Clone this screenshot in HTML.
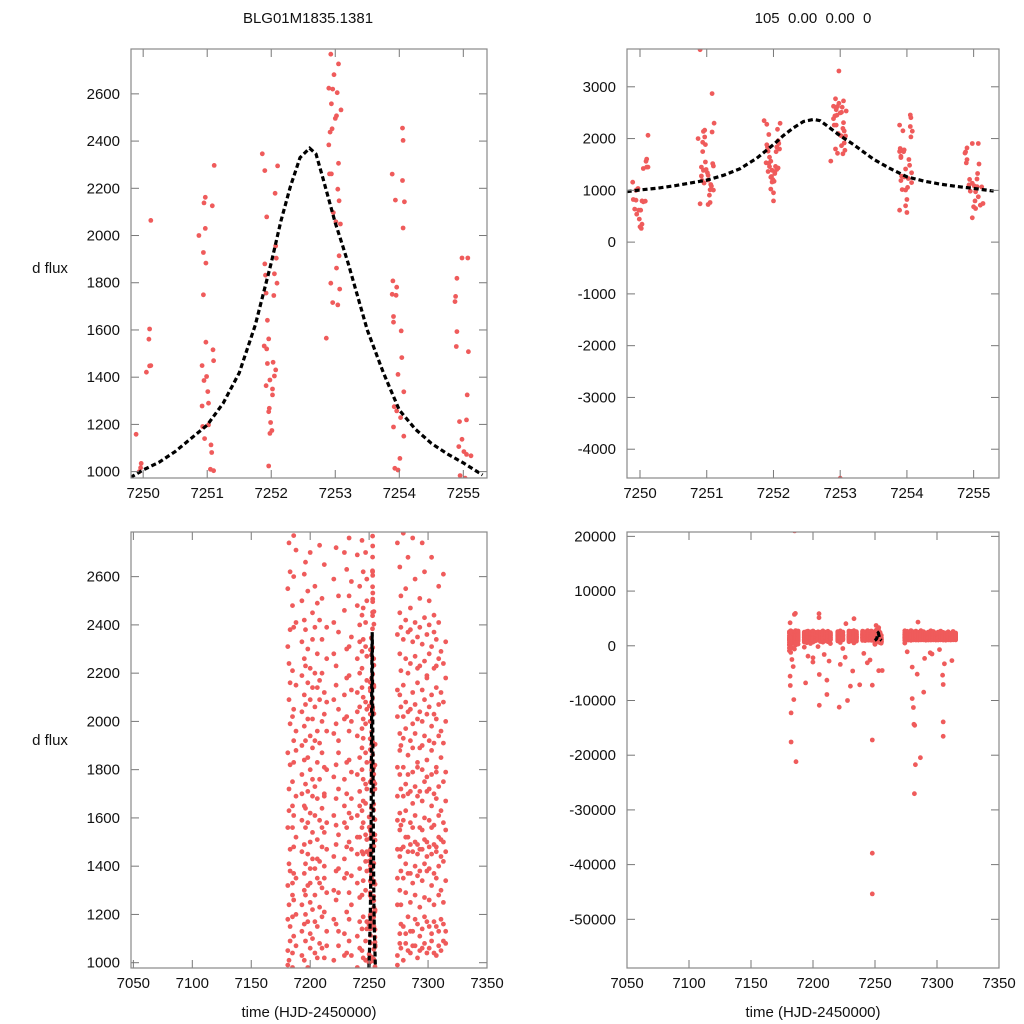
<!DOCTYPE html>
<html><head><meta charset="utf-8">
<style>
html,body{margin:0;padding:0;background:#fff;}
svg{display:block;font-family:"Liberation Sans",Arial,sans-serif;}
</style></head>
<body>
<svg id="chart" width="1024" height="1024" viewBox="0 0 1024 1024" xmlns="http://www.w3.org/2000/svg">
<rect width="1024" height="1024" fill="#fff"/>
<text x="308" y="23" font-size="15" text-anchor="middle" fill="#111">BLG01M1835.1381</text>
<text x="813" y="23" font-size="15" text-anchor="middle" fill="#111" xml:space="preserve">105  0.00  0.00  0</text>
<text x="50" y="273" font-size="15" text-anchor="middle" fill="#111">d flux</text>
<text x="50" y="745" font-size="15" text-anchor="middle" fill="#111">d flux</text>
<text x="309" y="1017" font-size="15" text-anchor="middle" fill="#111">time (HJD-2450000)</text>
<text x="813" y="1017" font-size="15" text-anchor="middle" fill="#111">time (HJD-2450000)</text>
</svg>
<script>
// Zoomed-in photometry (peak nights)
const zoomT = [7249.89,7249.97,7249.94,7250.05,7250.10,7250.12,7250.09,7250.10,7250.12,
7250.87,7250.94,7250.98,7250.97,7250.95,7250.97,7251.08,7251.11,7250.94,7250.98,7251.09,7251.10,7250.92,7250.95,7250.99,7251.01,7250.92,7251.02,7250.93,7251.02,7250.96,7251.06,7251.07,7251.05,7251.10,
7251.86,7251.90,7252.10,7252.06,7251.93,7252.07,7252.08,7251.90,7251.91,7252.05,7252.09,7251.92,7252.04,7251.94,7251.96,7251.89,7251.93,7251.94,7252.03,7252.07,7252.05,7251.98,7251.92,7252.02,7252.02,7251.97,7251.96,7251.99,7252.01,7251.98,7251.96,
7252.93,7253.05,7252.98,7252.90,7252.96,7253.03,7252.94,7253.09,7253.02,7253.00,7252.95,7252.92,7252.90,7253.05,7252.91,7252.94,7253.04,7253.06,7252.97,7253.01,7253.08,7253.06,7253.02,7253.07,7252.93,7252.96,7253.04,7252.86,
7254.05,7254.06,7253.89,7254.05,7253.94,7254.08,7254.06,7253.90,7253.96,7253.89,7253.95,7253.91,7253.91,7254.03,7254.04,7253.98,7254.07,7253.92,7253.96,7254.02,7253.91,7254.07,7254.01,7253.93,7253.98,
7254.98,7255.07,7254.90,7254.88,7254.87,7254.90,7254.89,7255.08,7255.06,7254.94,7255.05,7254.98,7254.93,7255.01,7255.05,7254.95,7255.03,
7249.96,7249.90,7249.94,7250.03,7250.05,7250.08,7249.92,7249.98,7250.01,7249.95,7249.99,7250.03,7250.00,7250.02,
7250.90,7251.08,7250.90,7251.02,7251.05,7251.04,7252.00,7252.00,7252.98,7253.00,
7253.89,7254.00,7253.98,7254.00,7254.98,7255.03,7255.00,7255.10,7255.02,7255.14,7255.07,7255.12];
const zoomF = [1158,1035,1000,1421,1448,1449,1561,1604,2064,
2000,1928,1883,2030,2138,2162,2126,2297,1749,1548,1516,1470,1449,1386,1403,1339,1278,1290,1191,1198,1140,1113,1081,1010,1004,
2346,2275,2295,2179,2079,1956,1904,1880,1832,1838,1798,1756,1746,1641,1562,1532,1520,1458,1463,1431,1405,1388,1364,1350,1325,1268,1254,1208,1174,1162,1024,
2768,2727,2681,2624,2620,2605,2558,2532,2507,2496,2452,2438,2384,2306,2261,2261,2196,2147,2097,2058,2049,1914,1862,1773,1798,1716,1706,1565,
2455,2403,2260,2233,2150,2143,2032,1808,1781,1751,1747,1657,1633,1596,1483,1412,1338,1275,1257,1229,1189,1150,1056,1014,1007,
1905,1905,1819,1742,1720,1593,1530,1508,1325,1212,1219,1137,1106,1085,1073,983,972,
1016,823,810,797,778,791,637,617,617,540,444,347,296,264,
3717,2868,740,727,765,907,797,952,3305,-4560,
617,572,701,823,469,650,682,714,797,746,875,1067];

// Full-season photometry: nights and flux values per night
const seasonT = [7181,7182,7183,7185,7186,7188,7193,7195,7196,7198,7200,7202,7204,7206,7208,7210,7212,7214,7220,7222,7224,7229,7231,7233,7235,7240,7242,7244,7245,7247,7248,7274,7276,7277,7279,7281,7283,7285,7287,7289,7291,7293,7295,7297,7299,7301,7303,7305,7307,7309,7311,7313,7315];
const seasonF = [
[1050,1320,1870,2310,1560,990,240,-400,610,1180,2550,-900,130],
[1410,2090,1240,2740,1720,350,-1200,820,1630,2240,1010,480],
[1150,1990,2620,1380,1820,560,-350,2160,1090,700,1470,2380],
[1040,1280,1650,2210,2480,1750,1330,980,400,-600,2020,1190,1560],
[2770,1110,1480,1920,2390,1610,1260,2050,780,120,1370,2600,1830],
[1200,1520,1880,2410,1070,1690,2150,850,300,1350,2710,1960],
[1130,1460,1780,2040,2330,1240,1590,1900,1030,2500,690,-250,1700,2190],
[1010,1370,1650,1980,2260,2610,1160,1840,1490,2110,560,1300,2420],
[1090,1280,1560,1740,2070,2380,1410,1920,1200,2660,870,1640,2230],
[1170,1450,1850,2160,1320,2540,1710,980,1580,2010,420,2300],
[1060,1330,1620,1940,2220,1500,1800,1250,2700,680,1120,2090,1390],
[1220,1540,1890,2340,1100,1690,2010,1430,2450,910,1760,2140],
[1040,1390,1730,2060,2390,1280,1610,2200,-150,1920,1170,2560],
[1150,1510,1830,2140,1350,1680,2490,1020,780,1960,2280,1430],
[1080,1420,1760,2090,2420,1230,1590,1910,2730,650,1330,2170],
[1190,1560,1870,2200,1310,1640,2000,2510,1060,900,1480,2340],
[1020,1350,1690,2030,1210,1540,1810,2650,750,1400,2120,1700],
[1130,1470,1800,2260,1580,1960,2390,1070,400,1290,2080],
[1010,1300,1610,1950,2280,1440,1770,2090,2590,880,1180,2410],
[1160,1490,1820,2150,1260,1680,1990,2720,600,1380,2230,1570],
[1070,1390,1720,2050,2370,1530,1870,1130,-500,1920,1290,2520],
[1120,1430,1760,2110,2460,1350,1650,2010,1030,750,2700,1580],
[1040,1370,1700,2020,2300,1560,1830,2180,1210,2630,890,1480],
[1180,1500,1840,2190,2520,1290,1620,1960,1090,2760,520,2310],
[1030,1360,1680,2000,2350,1470,1790,2130,1240,2580,830,1600],
[1110,1450,1780,2120,2480,1330,1610,1940,2260,2690,980,1520,2040],
[1060,1390,1710,2060,2400,1520,1850,2200,1170,2560,940,1650,2330,1270],
[1140,1460,1800,2140,2440,1280,1630,1970,2290,2750,1050,1560,1890,2220],
[1020,1340,1670,2010,2340,1450,1760,2100,2620,1190,1580,1930,2470],
[1090,1420,1740,2080,2410,1300,1660,1990,2310,2700,1010,1530,1870],
[1170,1510,1830,2170,2500,1380,1720,2050,2590,1140,1460,2270],
[1030,1350,1690,2020,2360,1470,1810,2740,990,1240,1590,2130,500],
[1120,1440,1780,2110,2450,1300,1620,1950,2280,1080,1550,1880,2640],
[1060,1380,1720,2060,2390,1240,1570,1900,2210,1160,1470,2520],
[1150,1480,1810,2150,1350,1690,2020,2340,2780,1010,1590,1930],
[1080,1410,1740,2080,2420,1290,1630,1970,2260,1120,1520,2550],
[1190,1520,1860,2200,1370,1700,2040,2370,1050,1460,1780,2680],
[1040,1370,1710,2050,2380,1250,1580,1920,2240,1130,1490,2470],
[1130,1460,1790,2120,1330,1660,1990,2330,2760,1070,1560,1890],
[1070,1400,1730,2070,2410,1280,1610,1950,2270,1180,1500,2590],
[1160,1490,1830,2160,1360,1690,2010,2350,1020,1450,1810,2220],
[1050,1380,1710,2040,2390,1230,1560,1890,2230,1110,1470,2510],
[1140,1470,1800,2130,1340,1670,2000,2320,2740,1060,1550,1900],
[1080,1410,1750,2090,2430,1270,1600,1940,2250,1190,1510,2620],
[1170,1500,1840,2180,1380,1710,2030,2360,1040,1440,1770,2190],
[1060,1390,1720,2060,2400,1260,1590,1920,2280,1150,1480,2500],
[1120,1450,1780,2110,1320,1650,1980,2310,2680,1090,1560,1880],
[1040,1370,1700,2030,2370,1240,1570,1910,2220,1170,1490,2440],
[1150,1480,1810,2140,1350,1680,2010,2340,1030,1460,1790,2230],
[1070,1400,1730,2070,2410,1280,1610,1940,2260,1130,1520,2560],
[1180,1510,1850,1300,1630,1960,2290,1050,1440,2120],
[1090,1420,1750,2080,1250,1580,1910,2240,1160,1500,2610],
[1130,1460,1790,1340,1670,2000,2330,1080,1550,2180]];
// Outliers only visible in the full-range panel
const outT = [7185.2,7186.3,7182.3,7186.3,7182.3,7184.5,7181.7,7247.8,7247.8,7247.8,7281.8,7282.6,7286.6,7281.4,7282.0,7281.0,7280.0,7305,7305,7305,7304.5,7205.1,7211.2,7227.8,7221.1,7230.2,7237.7,7243.8,7247.8,7255.8,7289.3,7294.5,7205.1,7211.2,7194,7199.9,7181.5,7185.8,7185.0,7204.8,7204.8,7233.1,7226.5,7284.7,7181.5,7183,7184,7196,7200,7209,7213,7222,7226,7232,7241,7246,7276,7280,7284,7290,7296,7302,7306,7312];
const outF = [21000,-59400,-17580,-21180,-12270,-9830,-7265,-17215,-37910,-45360,-27040,-21730,-20450,-14350,-14530,-11290,-9650,-13920,-16540,-7080,-5370,-10870,-8910,-10010,-11230,-7390,-7140,-3110,-7200,-4520,-8490,-1280,-5250,-6290,-6780,-2990,-5560,5920,5740,5860,5130,4950,4030,4330,4210,-2500,-3800,-1900,-2200,-1600,-2800,-3400,-2100,-4600,-1400,-2600,-1100,-3900,-5200,-2300,-1500,-700,-3300,-2700,-900];

// Model (fit) curve samples
const modelT = [7249.8,7250,7250.25,7250.5,7251,7251.25,7251.5,7251.75,7252,7252.15,7252.3,7252.45,7252.6,7252.7,7252.8,7253,7253.1,7253.2,7253.5,7253.75,7254,7254.25,7254.5,7254.75,7255,7255.3];
const modelF = [975,1007,1040,1085,1197,1290,1418,1620,1884,2060,2208,2330,2370,2345,2250,2054,1970,1884,1600,1420,1261,1180,1120,1075,1037,986];

const xTicksZoom = [7250,7251,7252,7253,7254,7255];
const xTicksWide = [7050,7100,7150,7200,7250,7300,7350];
const yTicksP1 = [1000,1200,1400,1600,1800,2000,2200,2400,2600];
const yTicksP2 = [-4000,-3000,-2000,-1000,0,1000,2000,3000];
const yTicksP4 = [-50000,-40000,-30000,-20000,-10000,0,10000,20000];

const NS = 'http://www.w3.org/2000/svg';
const svg = document.getElementById('chart');
function mk(tag, attrs, parent){const e=document.createElementNS(NS,tag);for(const k in attrs)e.setAttribute(k,attrs[k]);(parent||svg).appendChild(e);return e;}

const panels = [
 {id:'top-left', l:131,r:487,t:49,b:478,x0:7249.81,x1:7255.37,y0:973,y1:2790,xt:xTicksZoom,yt:yTicksP1},
 {id:'top-right',l:627,r:999,t:49,b:478,x0:7249.805,x1:7255.38,y0:-4556,y1:3730,xt:xTicksZoom,yt:yTicksP2},
 {id:'bottom-left',l:131,r:487,t:532,b:968,x0:7048,x1:7350,y0:978,y1:2785,xt:xTicksWide,yt:yTicksP1},
 {id:'bottom-right',l:627,r:999,t:532,b:968,x0:7050,x1:7350,y0:-58900,y1:20800,xt:xTicksWide,yt:yTicksP4}
];

const allT = zoomT.slice(), allF = zoomF.slice();
seasonT.forEach((t,i)=>{seasonF[i].forEach(v=>{allT.push(t);allF.push(v);});});
outT.forEach((t,i)=>{allT.push(t);allF.push(outF[i]);});

panels.forEach((p,pi)=>{
  const sx = v => p.l + (v-p.x0)/(p.x1-p.x0)*(p.r-p.l);
  const sy = v => p.b - (v-p.y0)/(p.y1-p.y0)*(p.b-p.t);
  const g = mk('g',{});
  
  
  const cp = mk('clipPath',{id:'clip'+pi},g);
  mk('rect',{x:p.l,y:p.t,width:p.r-p.l,height:p.b-p.t},cp);
  const pts = mk('g',{'clip-path':'url(#clip'+pi+')',fill:'#ef5b5b'},g);
  
  
  for(let i=0;i<allT.length;i++){
    const x=sx(allT[i]), y=sy(allF[i]);
    if(x<p.l-4||x>p.r+4||y<p.t-4||y>p.b+4) continue;
    const c = mk('circle',{cx:x.toFixed(1),cy:y.toFixed(1),r:2.4},pts);
    
    
  }
  const d = modelT.map((t,i)=>(i?'L':'M')+sx(t).toFixed(2)+' '+sy(modelF[i]).toFixed(2)).join(' ');
  const ml = mk('path',{d:d,fill:'none',stroke:'#000','stroke-width':3.2,'stroke-dasharray':'5,3','clip-path':'url(#clip'+pi+')'},g);
  
  
  p.xt.forEach(v=>{
    const x=sx(v);
    mk('line',{x1:x,y1:p.b,x2:x,y2:p.b-8,stroke:'#777','stroke-width':1},g);
    mk('line',{x1:x,y1:p.t,x2:x,y2:p.t+8,stroke:'#777','stroke-width':1},g);
    const tx = mk('text',{x:x,y:p.b+20,'font-size':15,'text-anchor':'middle',fill:'#111'},g);
    tx.textContent = v;
    
    
  });
  p.yt.forEach(v=>{
    const y=sy(v);
    mk('line',{x1:p.l,y1:y,x2:p.l+8,y2:y,stroke:'#777','stroke-width':1},g);
    mk('line',{x1:p.r,y1:y,x2:p.r-8,y2:y,stroke:'#777','stroke-width':1},g);
    const tx = mk('text',{x:p.l-11,y:y+5,'font-size':15,'text-anchor':'end',fill:'#111'},g);
    tx.textContent = v;
    
    
  });
  const fr = mk('rect',{x:p.l,y:p.t,width:p.r-p.l,height:p.b-p.t,fill:'none',stroke:'#888','stroke-width':1.2},g);
  
  
});
</script>
</body></html>
